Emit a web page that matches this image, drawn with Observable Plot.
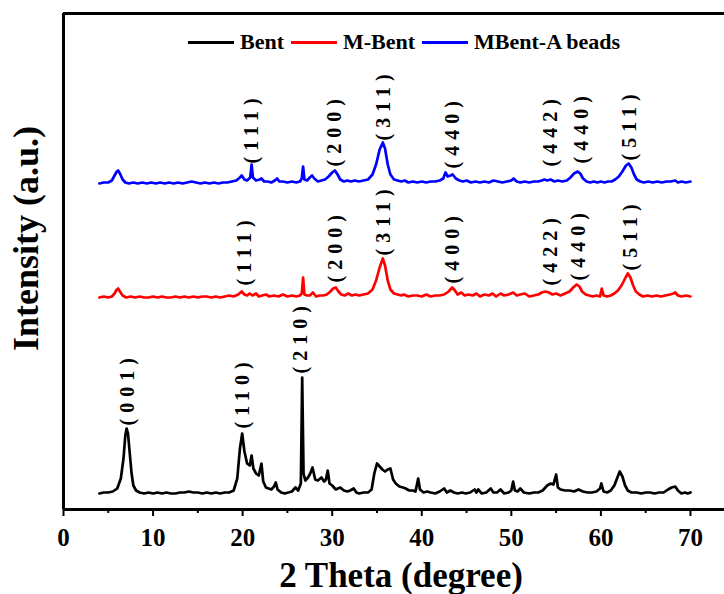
<!DOCTYPE html>
<html><head><meta charset="utf-8">
<script src="https://cdn.jsdelivr.net/npm/d3@7"></script>
<script src="https://cdn.jsdelivr.net/npm/@observablehq/plot@0.6"></script>
<style>
html,body{margin:0;padding:0;background:#fff;overflow:hidden}
#wrap{position:relative;width:724px;height:594px}
#legend{position:absolute;left:188px;top:29px;display:flex;align-items:center;font:bold 22px "Liberation Serif","Times New Roman",serif;line-height:26px;color:#000}
#legend .sw{display:inline-block;width:46px;height:3px;margin-right:6px}
#legend .lab{margin-right:7px}
</style></head><body><div id="wrap"><div id="legend"></div></div>
<script>
// ---- data (2θ, intensity above each pattern's own baseline, a.u.) ----
const seriesNames = ["Bent", "M-Bent", "MBent-A beads"];
const seriesColors = ["#000000", "#ff0000", "#0000ff"];
const seriesOffsets = [16, 212, 326];

const bentPts = [[4.0,0],[4.5,1],[5.0,1],[5.5,2],[6.0,5],[6.4,15],[6.7,35],[6.9,58],[7.05,65],[7.2,60],[7.4,40],[7.6,20],[7.8,8],[8.1,3],[8.5,1],[9.0,0],[9.5,1],[10,0],[10.5,1],[11,0],[11.5,1],[12,0],[12.5,0],[13,1],[13.5,1],[14,2],[14.5,1],[15,1],[15.5,0],[16,1],[16.5,0],[17,1],[17.5,0],[18,1],[18.5,1],[19.0,3],[19.4,15],[19.7,45],[19.95,60],[20.2,42],[20.5,30],[20.8,28],[21.0,38],[21.2,25],[21.5,20],[21.8,18],[22.1,30],[22.3,12],[22.6,6],[22.9,5],[23.2,4],[23.5,7],[23.7,11],[23.9,4],[24.3,1],[24.7,0],[25.1,1],[25.5,2],[25.9,6],[26.2,3],[26.5,10],[26.65,116],[26.8,20],[27.0,13],[27.3,16],[27.55,20],[27.8,26],[28.1,14],[28.4,13],[28.8,16],[29.1,12],[29.3,14],[29.5,23],[29.7,10],[30.0,8],[30.4,4],[30.9,6],[31.3,3],[31.7,2],[32.0,3],[32.4,5],[32.7,1],[33.0,0],[33.5,1],[34.0,1],[34.4,4],[34.7,20],[35.0,30],[35.3,27],[35.6,24],[35.9,22],[36.2,24],[36.5,25],[36.8,14],[37.1,10],[37.5,7],[37.9,6],[38.2,5],[38.6,3],[39.0,3],[39.3,2],[39.6,15],[39.8,4],[40.2,1],[40.6,2],[41.0,1],[41.5,0],[42.0,2],[42.5,5],[42.8,1],[43.2,3],[43.6,1],[44.0,0],[44.5,1],[44.9,0],[45.4,1],[45.9,4],[46.1,1],[46.3,4],[46.7,0],[47.2,1],[47.7,5],[48.0,1],[48.4,1],[48.8,4],[49.2,0],[49.7,1],[50.0,3],[50.2,12],[50.4,3],[50.7,2],[51.0,5],[51.4,1],[52.0,0],[52.5,1],[53.0,1],[53.5,3],[54.0,8],[54.4,10],[54.7,9],[55.0,19],[55.2,6],[55.5,4],[56.0,3],[56.5,3],[57.0,2],[57.5,4],[58.0,2],[58.5,1],[59.0,1],[59.5,2],[59.9,5],[60.05,10],[60.3,2],[60.7,1],[61.1,3],[61.5,8],[61.8,15],[62.1,22],[62.4,17],[62.7,8],[63.0,3],[63.4,1],[64.0,1],[64.5,0],[65.0,1],[65.5,1],[66.0,0],[66.5,1],[67.0,1],[67.5,4],[67.9,6],[68.3,7],[68.6,3],[69.0,0],[69.4,1],[69.7,0],[70.0,1]];

const mBentPts = [[4.0,0],[4.5,1],[5.0,0],[5.4,1],[5.7,4],[5.95,8],[6.1,9],[6.3,6],[6.6,2],[7.0,0],[7.5,1],[8.0,0],[8.5,1],[9.0,0],[9.5,0],[10,1],[10.5,0],[11,1],[11.5,0],[12,0],[12.5,1],[13,0],[13.5,1],[14,0],[14.5,1],[15,0],[15.5,1],[16,1],[16.5,0],[17,1],[17.5,0],[18,1],[18.5,2],[19.0,1],[19.5,3],[19.9,6],[20.2,3],[20.5,2],[20.8,4],[21.1,2],[21.5,4],[21.8,1],[22.2,2],[22.6,3],[23.0,1],[23.5,2],[24.0,1],[24.5,3],[25.0,1],[25.5,2],[26.0,1],[26.4,2],[26.6,4],[26.75,20],[26.9,3],[27.2,2],[27.5,2],[27.85,5],[28.2,1],[28.6,2],[29.0,2],[29.4,3],[29.8,6],[30.1,9],[30.4,10],[30.7,6],[31.0,3],[31.4,2],[31.8,4],[32.2,2],[32.6,3],[33.0,2],[33.5,3],[34.0,4],[34.5,8],[34.9,17],[35.3,30],[35.65,39],[35.9,32],[36.2,17],[36.5,8],[36.9,4],[37.3,3],[37.7,2],[38.0,3],[38.5,1],[39.0,2],[39.5,2],[40.0,1],[40.5,3],[41.0,1],[41.5,2],[42.0,2],[42.5,3],[43.0,6],[43.4,10],[43.7,7],[44.0,3],[44.4,5],[44.8,2],[45.2,3],[45.7,2],[46.1,4],[46.5,1],[47.0,3],[47.5,2],[47.9,4],[48.3,1],[48.8,4],[49.2,2],[49.7,3],[50.2,5],[50.6,2],[51.0,3],[51.5,4],[52.0,1],[52.5,2],[53.0,3],[53.4,5],[53.8,6],[54.2,5],[54.6,3],[55.0,4],[55.5,2],[56.0,4],[56.5,6],[56.9,10],[57.3,13],[57.6,11],[57.9,6],[58.3,3],[58.7,2],[59.1,1],[59.5,2],[59.9,1],[60.1,9],[60.3,2],[60.7,1],[61.1,2],[61.5,4],[61.9,7],[62.3,12],[62.7,19],[63.0,24],[63.3,20],[63.6,12],[63.9,6],[64.3,3],[64.7,1],[65.2,2],[65.7,1],[66.2,2],[66.7,1],[67.2,2],[67.7,3],[68.1,4],[68.3,5],[68.6,2],[69.0,1],[69.5,2],[70.0,1]];

const mBentAPts = [[4.0,0],[4.5,1],[5.0,1],[5.4,3],[5.7,8],[5.95,12],[6.1,13],[6.3,10],[6.6,4],[6.9,1],[7.3,0],[7.8,1],[8.3,0],[8.8,1],[9.3,0],[9.8,1],[10.3,0],[10.8,1],[11.3,0],[11.8,1],[12.3,0],[12.8,1],[13.3,0],[13.8,1],[14.3,2],[14.8,1],[15.3,0],[15.8,1],[16.3,0],[16.8,1],[17.3,0],[17.8,1],[18.3,1],[18.8,2],[19.3,3],[19.7,6],[19.9,8],[20.2,4],[20.5,3],[20.85,6],[21.0,19],[21.15,6],[21.5,3],[21.9,4],[22.1,5],[22.4,2],[22.8,2],[23.2,1],[23.6,3],[23.85,5],[24.1,2],[24.5,2],[25.0,1],[25.5,2],[26.0,1],[26.4,2],[26.6,5],[26.75,17],[26.9,4],[27.2,3],[27.5,6],[27.75,8],[28.0,5],[28.4,2],[28.8,3],[29.2,4],[29.6,7],[30.0,11],[30.3,13],[30.6,9],[30.9,4],[31.3,2],[31.7,3],[32.1,2],[32.5,3],[33.0,2],[33.5,3],[34.0,4],[34.5,9],[34.9,19],[35.3,34],[35.65,41],[35.9,35],[36.2,19],[36.5,9],[36.9,4],[37.3,3],[37.7,2],[38.1,3],[38.5,1],[39.0,2],[39.5,1],[40.0,2],[40.5,1],[41.0,2],[41.5,2],[42.0,3],[42.4,5],[42.65,11],[42.9,7],[43.2,8],[43.45,9],[43.8,5],[44.2,3],[44.6,2],[45.0,3],[45.5,1],[46.0,2],[46.5,1],[47.0,2],[47.5,1],[48.0,3],[48.5,2],[49.0,1],[49.5,2],[50.0,3],[50.25,5],[50.6,2],[51.0,1],[51.5,2],[52.0,1],[52.5,2],[53.0,2],[53.4,3],[53.7,4],[54.0,3],[54.4,4],[54.8,2],[55.2,3],[55.7,2],[56.2,3],[56.6,6],[57.0,10],[57.4,12],[57.7,10],[58.0,5],[58.4,2],[58.8,1],[59.2,2],[59.6,1],[60.0,2],[60.4,1],[60.8,2],[61.2,2],[61.6,4],[62.0,7],[62.4,12],[62.8,18],[63.1,20],[63.4,16],[63.7,9],[64.0,4],[64.4,2],[64.8,1],[65.3,2],[65.8,1],[66.3,2],[66.8,1],[67.3,2],[67.8,2],[68.3,3],[68.6,1],[69.0,2],[69.5,1],[70.0,2]];

// peak annotations: [label, 2θ, intensity at label base]
const bentLabels = [["(001)",7.2,66],["(110)",19.95,63],["(210)",26.5,118]];
const mBentLabels = [["(111)",20.2,10],["(200)",30.4,13],["(311)",35.7,40],["(400)",43.45,12],["(422)",54.4,10],["(440)",57.5,15],["(511)",63.3,25]];
const mBentALabels = [["(111)",21.05,18],["(200)",30.3,15],["(311)",35.7,41],["(440)",43.4,13],["(442)",54.4,15],["(440)",57.9,18],["(511)",63.2,21]];

const xMajorTicks = [0,10,20,30,40,50,60,70];
const xTickLabels = ["0","10","20","30","40","50","60","70"];
const xMinorTicks = [5,15,25,35,45,55,65];
const xTitle = "2 Theta (degree)";
const yTitle = "Intensity (a.u.)";

// ---- build tables ----
const allPts = [bentPts, mBentPts, mBentAPts];
const allLabels = [bentLabels, mBentLabels, mBentALabels];
const rows = allPts.flatMap((pts, s) => pts.map(([x, v]) => ({series: seriesNames[s], x, y: v + seriesOffsets[s]})));
const labelRows = allLabels.flatMap((ls, s) => ls.map(([t, x, v]) => ({text: t, x, y: v + seriesOffsets[s]})));
const tickRows = xMajorTicks.map((x, i) => ({x, text: xTickLabels[i]}));

const FONT = '"Liberation Serif","Times New Roman",serif';
const chart = Plot.plot({
  width: 724, height: 594,
  marginLeft: 63, marginRight: 0, marginTop: 13, marginBottom: 85,
  x: {domain: [0, 73.8]},
  y: {domain: [0, 496], axis: null},
  color: {domain: seriesNames, range: seriesColors},
  style: {fontFamily: FONT, fontWeight: "bold", color: "#000", background: "#fff", overflow: "hidden"},
  marks: [
    Plot.line(rows, {x: "x", y: "y", z: "series", stroke: "series", strokeWidth: 2.7, curve: "linear"}),
    Plot.text(labelRows, {x: "x", y: "y", text: "text", rotate: -90, textAnchor: "start", lineAnchor: "middle", dy: -2, fontSize: 20, fontWeight: "bold", fill: "#000"}),
    Plot.axisX({ticks: xMinorTicks, tickSize: 4, strokeWidth: 2, tickFormat: () => "", label: null}),
    Plot.axisX({ticks: xMajorTicks, tickSize: 7, strokeWidth: 2, tickFormat: () => "", label: null}),
    Plot.text(tickRows, {x: "x", text: "text", frameAnchor: "bottom", lineAnchor: "middle", textAnchor: "middle", dy: 28, fontSize: 25, fontWeight: "bold", fill: "#000"}),
    Plot.ruleY([0], {strokeWidth: 3}),
    Plot.ruleY([496], {strokeWidth: 3}),
    Plot.ruleX([0], {strokeWidth: 3}),
    Plot.text([yTitle], {text: d => d, frameAnchor: "left", textAnchor: "middle", rotate: -90, dx: -26, dy: -23, lineAnchor: "bottom", fontSize: 36, fontWeight: "bold", fill: "#000"}),
    Plot.text([xTitle], {text: d => d, frameAnchor: "bottom", textAnchor: "middle", dx: 7, dy: 77, lineAnchor: "bottom", fontSize: 35, fontWeight: "bold", fill: "#000"})
  ]
});
d3.select(chart).selectAll("text").filter(function() { return /^\(\d+\)$/.test(this.textContent); }).style("letter-spacing", "6px");
document.getElementById("wrap").prepend(chart);

// ---- legend ----
const lg = document.getElementById("legend");
seriesNames.forEach((n, i) => {
  const sw = document.createElement("span"); sw.className = "sw"; sw.style.background = seriesColors[i];
  const lab = document.createElement("span"); lab.className = "lab"; lab.textContent = n;
  lg.appendChild(sw); lg.appendChild(lab);
});
</script></body></html>
